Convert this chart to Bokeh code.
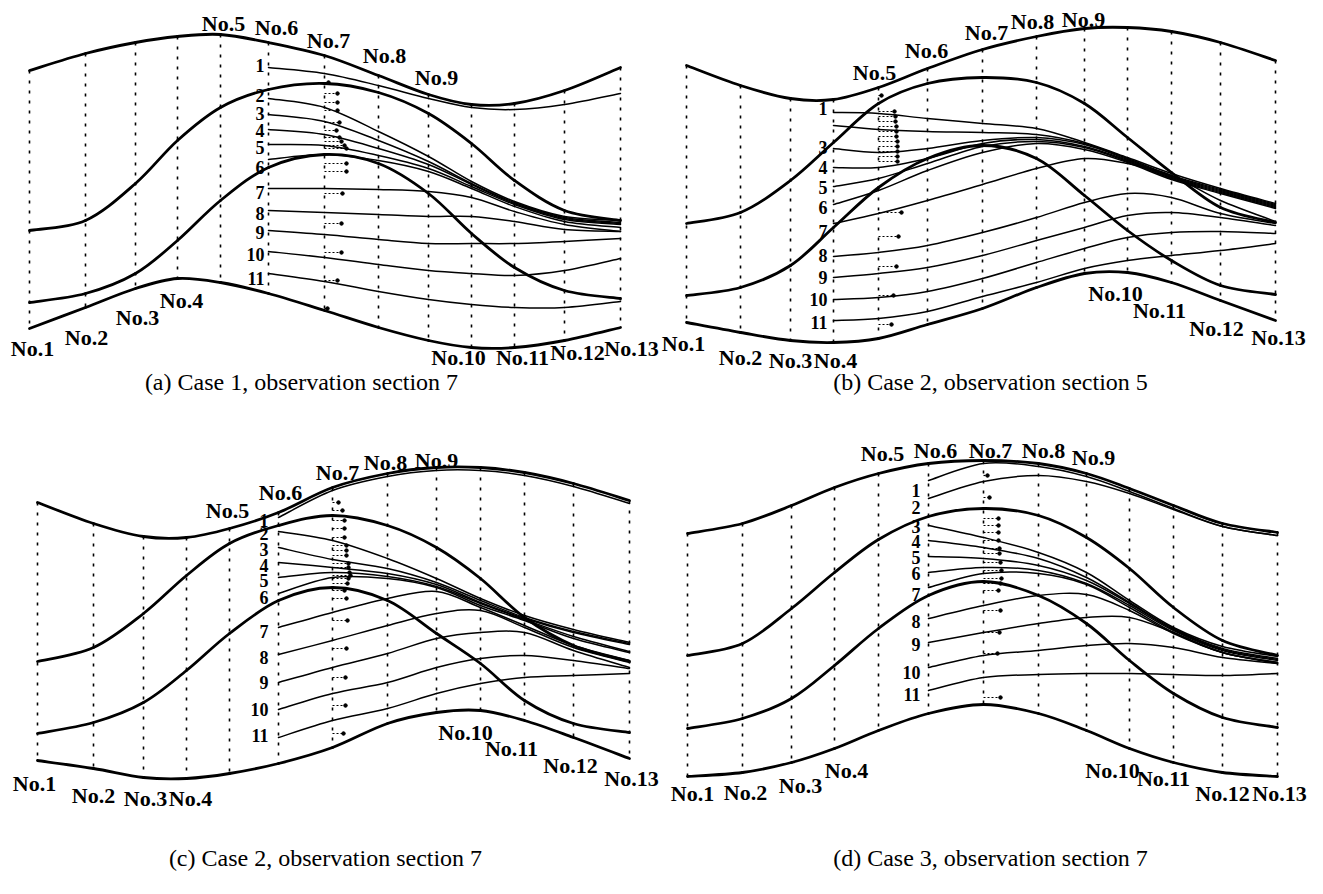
from bokeh.plotting import figure
from bokeh.models import Range1d, ColumnDataSource
from bokeh.core.properties import value
from bokeh.embed import file_html
from bokeh.resources import INLINE

SECTION_NAMES = [f"No.{i}" for i in range(1, 14)]
NUMS = [str(i) for i in range(1, 12)]

# ---------------- panel (a): Case 1, observation section 7 ----------------
A_X = [29, 85, 135, 177, 220, 268, 324, 378, 428, 471, 514, 564, 620]
A_TOP = [70, 53, 42, 36, 34, 42, 55, 75, 94, 104, 103, 90, 67]
A_BOT = [328, 307, 288, 278, 282, 293, 310, 327, 340, 347, 347, 340, 327]
A_IN1 = [230, 220, 183, 140, 107, 89, 83, 92, 113, 143, 180, 210, 220]
A_IN2 = [302, 293, 273, 240, 200, 167, 154, 163, 193, 233, 267, 290, 298]
A_START = 5
A_STREAM = [
    [67, 73, 85, 98, 107, 109, 104, 93],
    [98, 107, 131, 156, 181, 201, 216, 220],
    [114, 121, 140, 161, 183, 202, 217, 222],
    [129, 134, 148, 164, 184, 203, 218, 223],
    [144, 145, 155, 168, 186, 204, 219, 224],
    [159, 154, 160, 171, 188, 206, 221, 227],
    [188, 188, 189, 191, 197, 211, 224, 231],
    [210, 212, 214, 216, 216, 221, 229, 231],
    [230, 234, 239, 243, 243, 243, 241, 238],
    [251, 257, 264, 270, 273, 275, 270, 258],
    [273, 281, 291, 299, 304, 307, 307, 301],
]
A_OBS = 6
A_ARROW_Y = [82, 93, 102, 110, 122, 130, 137, 141, 145, 148, 163, 171, 193, 223, 252, 280, 308]
A_ARROW_LEN = [4, 13, 13, 13, 15, 12, 15, 17, 20, 22, 22, 22, 18, 17, 17, 13, 3]

# ---------------- panel (b): Case 2, observation section 5 ----------------
B_X = [686, 740, 790, 833, 878, 927, 982, 1036, 1084, 1127, 1171, 1220, 1275]
B_TOP = [65, 85, 98, 99, 87, 68, 49, 36, 28, 27, 31, 42, 60]
B_BOT = [322, 332, 340, 342, 338, 324, 308, 287, 273, 272, 282, 300, 320]
B_IN1 = [223, 212, 180, 142, 103, 83, 77, 82, 103, 137, 172, 207, 222]
B_IN2 = [295, 287, 265, 227, 187, 158, 145, 158, 195, 230, 260, 285, 294]
B_START = 3
B_STREAM = [
    [112, 113, 118, 123, 128, 142, 157, 173, 188, 203],
    [125, 129, 131, 132, 134, 143, 158, 175, 189, 204],
    [148, 152, 148, 140, 137, 144, 159, 176, 190, 205],
    [167, 167, 158, 143, 139, 146, 160, 177, 191, 206],
    [186, 178, 163, 146, 141, 147, 161, 178, 192, 207],
    [204, 190, 170, 152, 143, 149, 162, 179, 193, 208],
    [223, 213, 200, 184, 168, 158, 163, 175, 200, 221],
    [256, 252, 245, 232, 217, 202, 193, 197, 213, 223],
    [277, 273, 267, 255, 240, 227, 215, 212, 217, 225],
    [299, 297, 291, 278, 262, 248, 237, 232, 231, 233],
    [320, 318, 311, 296, 282, 268, 260, 255, 250, 243],
]
B_OBS = 4
B_ARROW_Y = [95, 111, 116, 121, 126, 131, 136, 141, 146, 151, 156, 161, 212, 236, 266, 295, 324]
B_ARROW_LEN = [3, 16, 17, 17, 18, 18, 18, 19, 19, 19, 19, 19, 23, 20, 18, 15, 13]
B_NUM_TEXT = ["1", "3", "4", "5", "6", "7", "8", "9", "10", "11"]

# ---------------- panel (c): Case 2, observation section 7 ----------------
C_X = [37, 93, 143, 186, 229, 278, 332, 387, 436, 480, 524, 573, 629]
C_TOP = [502, 523, 536, 537, 528, 512, 487, 473, 467, 467, 472, 483, 500]
C_BOT = [760, 768, 777, 778, 773, 763, 747, 723, 712, 710, 720, 737, 758]
C_IN1 = [661, 647, 613, 575, 543, 525, 515, 525, 547, 578, 617, 645, 661]
C_IN2 = [733, 722, 702, 670, 633, 600, 587, 600, 633, 663, 700, 723, 732]
C_START = 5
C_STREAM = [
    [517, 490, 476, 470, 470, 475, 486, 503],
    [531, 540, 558, 578, 598, 615, 629, 642],
    [547, 559, 568, 582, 600, 617, 631, 643],
    [562, 567, 573, 584, 602, 618, 632, 644],
    [577, 572, 576, 586, 603, 619, 636, 651],
    [593, 577, 578, 587, 605, 620, 638, 652],
    [627, 612, 598, 591, 607, 625, 645, 660],
    [654, 640, 625, 613, 610, 627, 647, 662],
    [682, 667, 653, 638, 632, 632, 650, 667],
    [709, 693, 682, 667, 658, 655, 660, 668],
    [737, 720, 708, 693, 683, 677, 675, 673],
]
C_OBS = 6
C_ARROW_Y = [502, 510, 520, 528, 537, 545, 550, 555, 563, 567, 572, 575, 578, 583, 590, 598, 620, 648, 677, 705, 733]
C_ARROW_LEN = [6, 10, 12, 12, 12, 14, 14, 14, 16, 16, 17, 18, 16, 15, 12, 14, 15, 14, 13, 13, 11]

# ---------------- panel (d): Case 3, observation section 7 ----------------
D_X = [687, 742, 791, 834, 878, 928, 983, 1038, 1086, 1129, 1173, 1222, 1277]
D_TOP = [533, 523, 505, 487, 473, 463, 460, 463, 473, 488, 505, 523, 532]
D_BOT = [776, 772, 762, 748, 730, 713, 704, 713, 730, 748, 762, 772, 776]
D_IN1 = [655, 643, 608, 572, 539, 516, 508, 515, 537, 568, 607, 640, 655]
D_IN2 = [728, 718, 698, 665, 628, 595, 581, 595, 623, 660, 693, 717, 727]
D_START = 5
D_STREAM = [
    [480, 463, 466, 476, 491, 508, 526, 535],
    [498, 481, 475, 481, 493, 509, 526, 535],
    [525, 537, 552, 572, 600, 627, 646, 656],
    [540, 547, 558, 577, 602, 628, 648, 658],
    [556, 558, 565, 580, 603, 629, 649, 659],
    [572, 567, 570, 583, 605, 630, 650, 660],
    [587, 573, 573, 584, 607, 632, 652, 662],
    [618, 605, 595, 594, 610, 633, 652, 663],
    [642, 632, 623, 617, 617, 632, 652, 662],
    [667, 655, 650, 645, 643, 647, 657, 663],
    [690, 677, 674, 673, 673, 674, 675, 673],
]
D_OBS = 6
D_ARROW_Y = [475, 497, 518, 525, 532, 540, 548, 553, 562, 570, 578, 583, 590, 610, 632, 653, 697]
D_ARROW_LEN = [4, 6, 15, 15, 15, 15, 16, 16, 17, 18, 18, 17, 15, 17, 16, 14, 17]

CAPTIONS = [
    "(a) Case 1, observation section 7",
    "(b) Case 2, observation section 5",
    "(c) Case 2, observation section 7",
    "(d) Case 3, observation section 7",
]

# ---------------- layout (label positions) ----------------
A_NO_LX = [32, 86, 137, 181, 223, 276, 328, 384, 436, 458, 522, 577, 631]
A_NO_LY = [348, 337, 317, 300, 23, 27, 40, 55, 77, 357, 357, 352, 348]
B_NO_LX = [683, 740, 790, 835, 874, 926, 986, 1032, 1083, 1115, 1159, 1216, 1278]
B_NO_LY = [343, 357, 360, 360, 72, 50, 32, 21, 19, 293, 310, 328, 337]
C_NO_LX = [34, 93, 145, 190, 227, 280, 337, 385, 436, 465, 511, 570, 631]
C_NO_LY = [783, 795, 798, 798, 510, 492, 472, 462, 460, 732, 748, 765, 778]
D_NO_LX = [692, 745, 800, 846, 882, 935, 990, 1043, 1093, 1112, 1163, 1222, 1279]
D_NO_LY = [793, 792, 785, 770, 453, 450, 450, 450, 457, 770, 778, 793, 793]

A_NUM_X, A_NUM_Y = 264, [65, 95, 113, 130, 147, 167, 192, 213, 232, 254, 278]
B_NUM_X, B_NUM_Y = 827, [108, 147, 167, 187, 207, 231, 255, 277, 299, 322]
C_NUM_X, C_NUM_Y = 268, [520, 533, 549, 565, 580, 597, 631, 657, 682, 709, 735]
D_NUM_X, D_NUM_Y = 920, [490, 507, 526, 541, 557, 573, 594, 621, 644, 672, 694]

CAP_X = [301, 990, 325, 990]
CAP_Y = [381, 381, 857, 857]

SERIF = value("Liberation Serif")

p = figure(width=1307, height=878, x_range=Range1d(0, 1307), y_range=Range1d(878, 0),
           x_axis_type=None, y_axis_type=None, toolbar_location=None,
           output_backend="svg", min_border=0)
p.outline_line_color = None
p.background_fill_color = "white"
p.border_fill_color = "white"


def smooth(xs, ys, width):
    n = len(xs)
    d = dict(x0=[], y0=[], x1=[], y1=[], cx0=[], cy0=[], cx1=[], cy1=[])
    for i in range(n - 1):
        xa, ya, xb, yb = xs[i], ys[i], xs[i + 1], ys[i + 1]
        xp, yp = (xs[i - 1], ys[i - 1]) if i > 0 else (xa, ya)
        xn, yn = (xs[i + 2], ys[i + 2]) if i + 2 < n else (xb, yb)
        d["x0"].append(xa); d["y0"].append(ya)
        d["x1"].append(xb); d["y1"].append(yb)
        d["cx0"].append(xa + (xb - xp) / 6); d["cy0"].append(ya + (yb - yp) / 6)
        d["cx1"].append(xb - (xn - xa) / 6); d["cy1"].append(yb - (yn - ya) / 6)
    p.bezier(x0="x0", y0="y0", x1="x1", y1="y1", cx0="cx0", cy0="cy0", cx1="cx1", cy1="cy1",
             source=ColumnDataSource(d), line_color="black", line_width=width, line_cap="round")


def panel(X, TOP, BOT, IN1, IN2, START, STREAM, OBS, AY, AL, NLX, NLY, NUMX, NUMY, NUMT):
    # dotted sections
    p.segment(x0=X, y0=TOP, x1=X, y1=BOT, line_color="black", line_width=1.6, line_dash="3 7")
    # walls and inner boundaries
    for c in (TOP, BOT, IN1, IN2):
        smooth(X, c, 2.8)
    # streamlines
    for s in STREAM:
        smooth(X[START:], s, 1.5)
    # velocity arrows at observation section
    xo = X[OBS]
    p.segment(x0=[xo] * len(AY), y0=AY, x1=[xo + l for l in AL], y1=AY,
              line_color="black", line_width=1.2, line_dash="2 2")
    p.scatter(x=[xo + l for l in AL], y=AY, size=3.5, color="black")
    # section names
    p.text(x=NLX, y=NLY, text=SECTION_NAMES, text_font=SERIF, text_font_style="bold",
           text_font_size="22px", text_align="center", text_baseline="middle", text_color="black")
    # streamline numbers
    p.text(x=[NUMX] * len(NUMY), y=NUMY, text=NUMT, text_font=SERIF, text_font_style="bold",
           text_font_size="18px", text_align="right", text_baseline="middle", text_color="black")


panel(A_X, A_TOP, A_BOT, A_IN1, A_IN2, A_START, A_STREAM, A_OBS, A_ARROW_Y, A_ARROW_LEN,
      A_NO_LX, A_NO_LY, A_NUM_X, A_NUM_Y, NUMS)
panel(B_X, B_TOP, B_BOT, B_IN1, B_IN2, B_START, B_STREAM, B_OBS, B_ARROW_Y, B_ARROW_LEN,
      B_NO_LX, B_NO_LY, B_NUM_X, B_NUM_Y, B_NUM_TEXT)
panel(C_X, C_TOP, C_BOT, C_IN1, C_IN2, C_START, C_STREAM, C_OBS, C_ARROW_Y, C_ARROW_LEN,
      C_NO_LX, C_NO_LY, C_NUM_X, C_NUM_Y, NUMS)
panel(D_X, D_TOP, D_BOT, D_IN1, D_IN2, D_START, D_STREAM, D_OBS, D_ARROW_Y, D_ARROW_LEN,
      D_NO_LX, D_NO_LY, D_NUM_X, D_NUM_Y, NUMS)

p.text(x=CAP_X, y=CAP_Y, text=CAPTIONS, text_font=SERIF, text_font_size="24px",
       text_align="center", text_baseline="middle", text_color="black")

open("out.html", "w").write(file_html(p, INLINE))
